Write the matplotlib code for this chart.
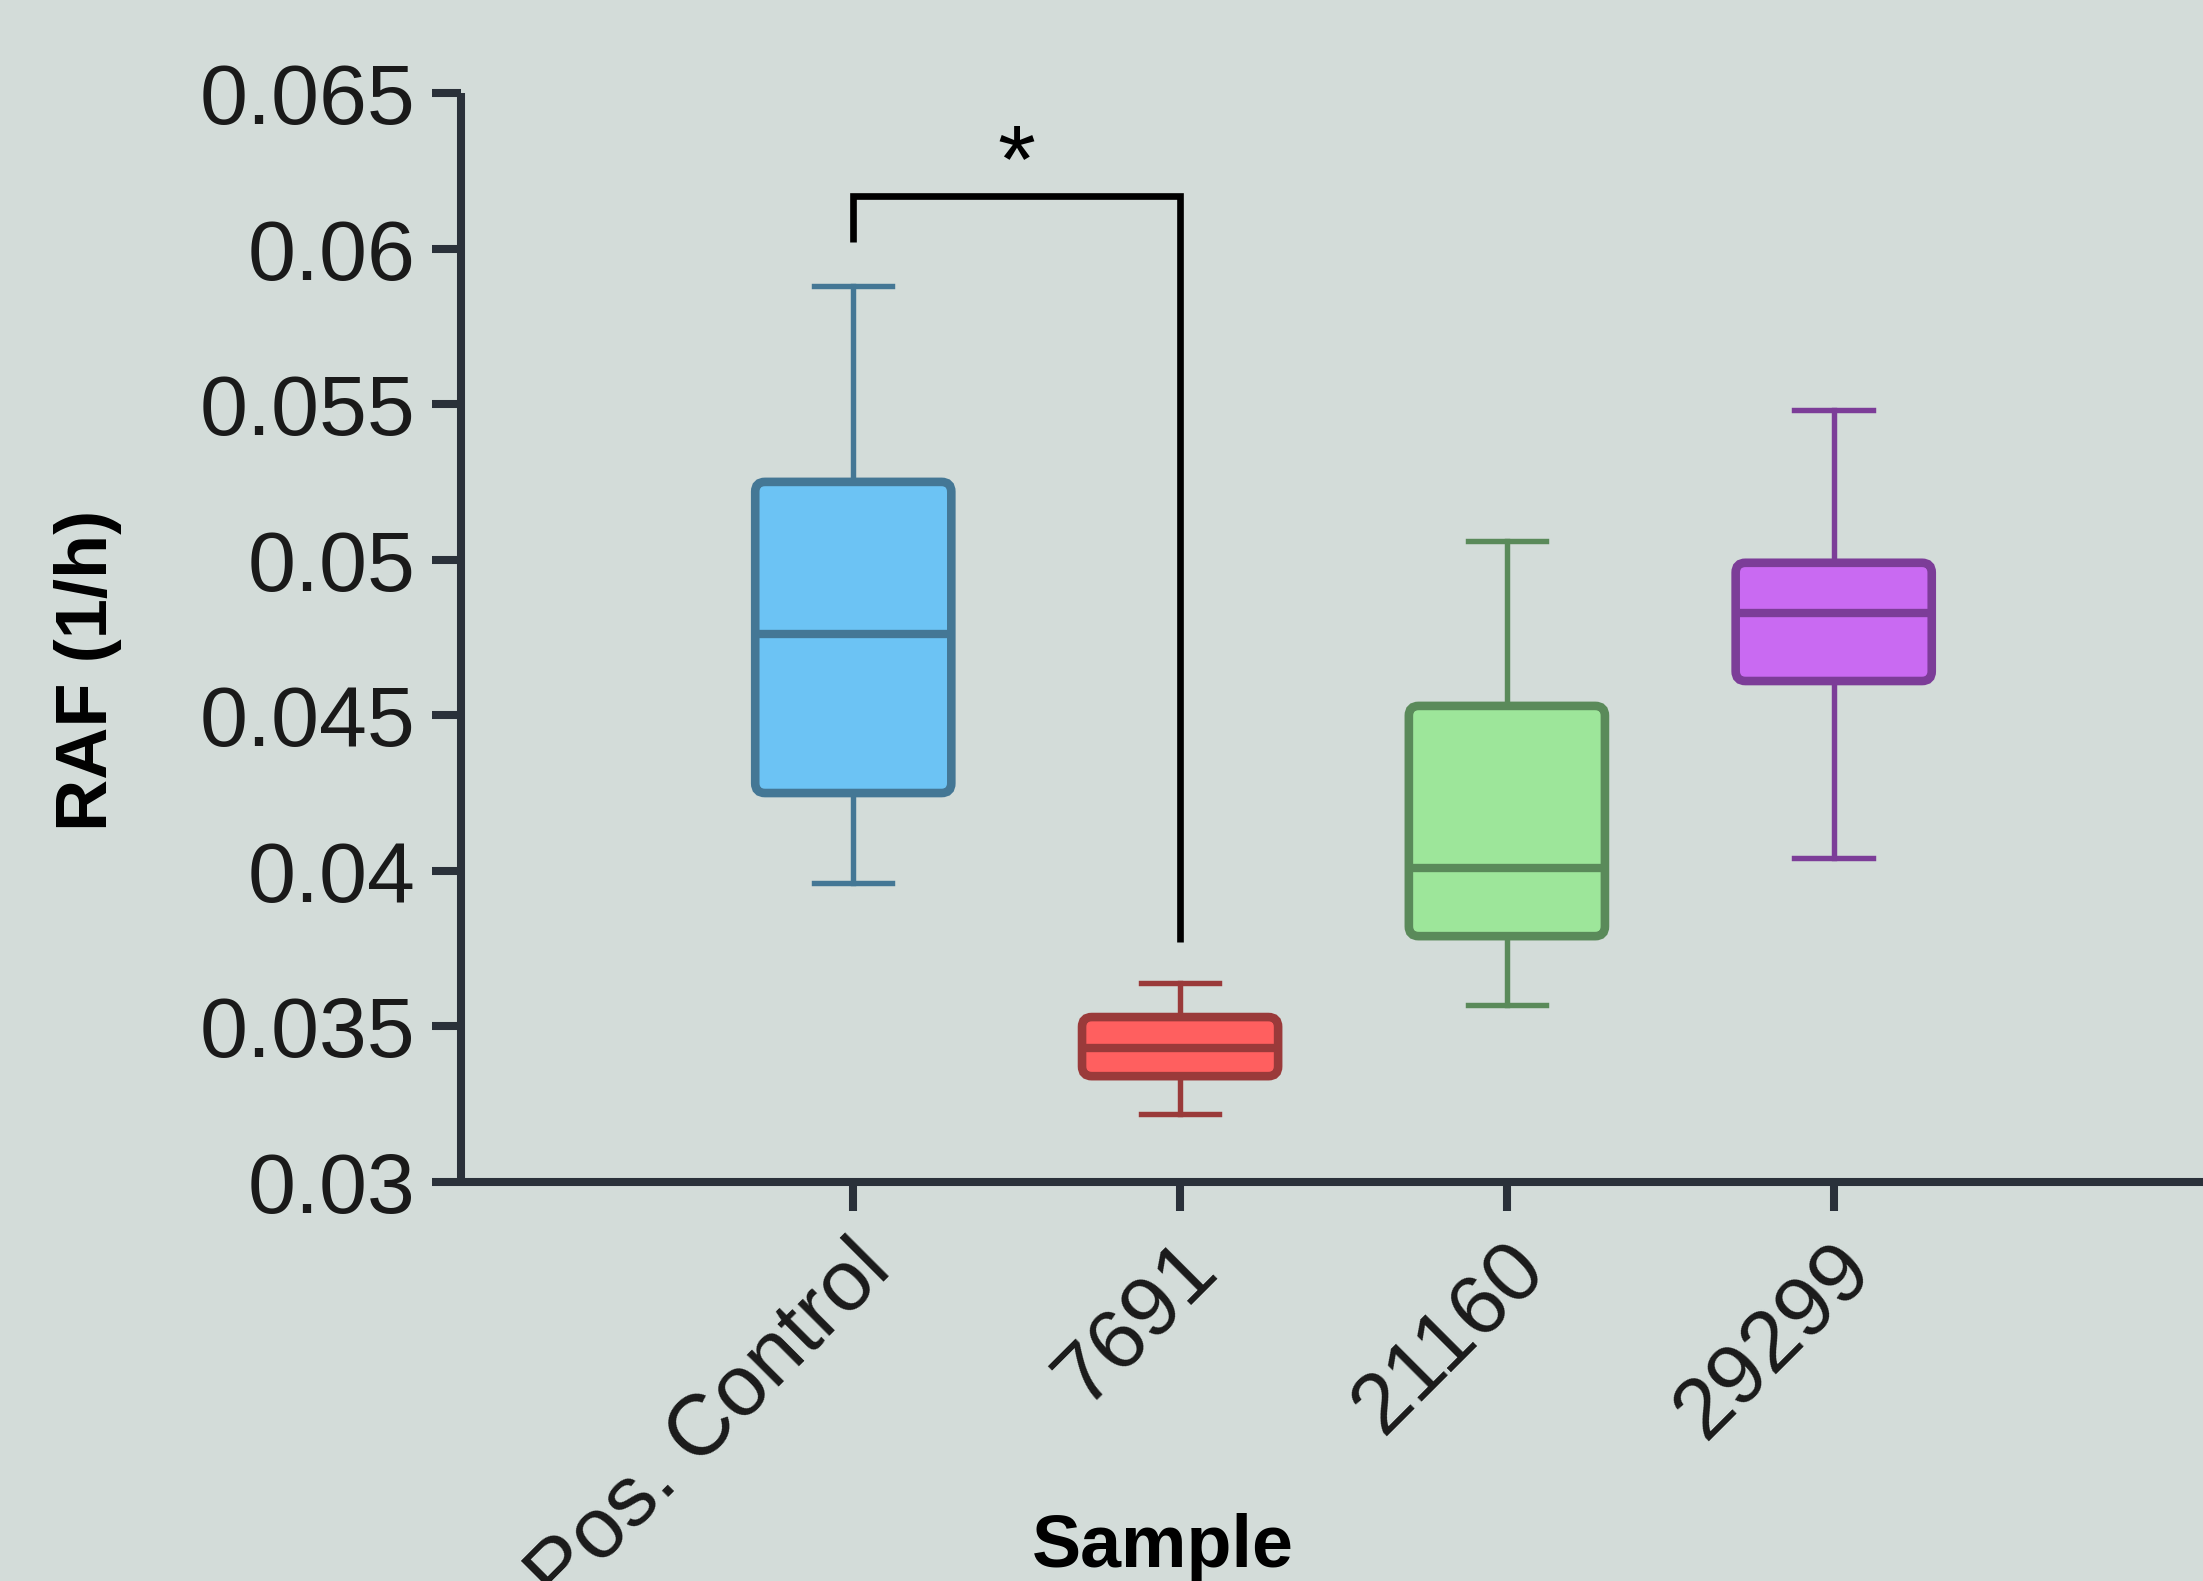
import matplotlib.pyplot as plt
from matplotlib.patches import FancyBboxPatch
from matplotlib.transforms import ScaledTranslation, blended_transform_factory

# box statistics
samples = ['Pos. Control', '7691', '21160', '29299']
whis_lo = [0.0396, 0.0322, 0.0357, 0.0404]
q1 = [0.0425, 0.0334, 0.0379, 0.0461]
med = [0.0476, 0.0343, 0.0401, 0.0483]
q3 = [0.0525, 0.0353, 0.0453, 0.0499]
whis_hi = [0.0588, 0.0364, 0.0506, 0.0548]

face_colors = ['#6cc3f4', '#ff5f5f', '#9de69a', '#c96af2']
edge_colors = ['#447795', '#9a3a3a', '#5a8a5a', '#7c3d98']

# significance bracket between first two groups
sig_pair = (0, 1)
sig_top = 0.0617
sig_left_end = 0.0602
sig_right_end = 0.0377
sig_text = '*'

bg = '#d3dcd9'
axis_col = '#2a313a'
box_w = 0.6

plt.rcParams['font.family'] = ['Liberation Sans', 'DejaVu Sans']

fig = plt.figure(figsize=(22.03, 15.81), dpi=100, facecolor=bg)
ax = fig.add_axes([0.2093, 0.2524, 0.7907, 0.6888])
ax.set_facecolor(bg)
ax.set_xlim(-1.2, 4.13)
ax.set_ylim(0.03, 0.065)

for i in range(len(samples)):
    stats = [{'whislo': whis_lo[i], 'q1': q1[i], 'med': med[i],
              'q3': q3[i], 'whishi': whis_hi[i], 'fliers': []}]
    ax.bxp(stats, positions=[i], widths=box_w, patch_artist=True,
           showfliers=False, manage_ticks=False,
           boxprops=dict(visible=False),
           medianprops=dict(color=edge_colors[i], linewidth=6.0, zorder=4),
           whiskerprops=dict(color=edge_colors[i], linewidth=3.9),
           capprops=dict(color=edge_colors[i], linewidth=3.9),
           capwidths=0.24)
    # rounded box, aspect corrected for the axes scale
    ax.add_patch(FancyBboxPatch((i - box_w / 2, q1[i]), box_w, q3[i] - q1[i],
                                boxstyle='round,pad=0,rounding_size=0.03',
                                mutation_aspect=0.0105,
                                facecolor=face_colors[i], edgecolor=edge_colors[i],
                                linewidth=6.2, zorder=3))

a, b = sig_pair
ax.plot([a, a, b, b], [sig_left_end, sig_top, sig_top, sig_right_end],
        color='black', linewidth=4.8, solid_joinstyle='miter',
        solid_capstyle='butt')
ax.text((a + b) / 2, sig_top + 0.0001, sig_text, ha='center', va='baseline',
        fontsize=70, color='black')

ax.set_yticks([0.03, 0.035, 0.04, 0.045, 0.05, 0.055, 0.06, 0.065])
ax.set_yticklabels(['0.03', '0.035', '0.04', '0.045', '0.05', '0.055', '0.06', '0.065'])
ax.set_xticks(range(len(samples)))
ax.set_xticklabels([])

# rotated category labels, nudged right of the tick
lab_tr = blended_transform_factory(ax.transData, ax.transAxes) + \
    ScaledTranslation(0.25, -0.74, fig.dpi_scale_trans)
for i, name in enumerate(samples):
    ax.text(i, 0, name, transform=lab_tr, rotation=45, ha='right', va='center',
            rotation_mode='anchor', fontsize=62, color='#1a1a1a')

for s in ['top', 'right']:
    ax.spines[s].set_visible(False)
for s in ['left', 'bottom']:
    ax.spines[s].set_linewidth(5.8)
    ax.spines[s].set_color(axis_col)
    ax.spines[s].set_capstyle('butt')

ax.tick_params(axis='both', direction='out', length=21, width=5.8,
               color=axis_col, labelcolor='#1a1a1a')
ax.tick_params(axis='y', pad=12, labelsize=62)

fig.text(0.040, 0.576, 'RAF (1/h)', rotation=90, ha='center', va='center',
         fontsize=52, fontweight='bold')
fig.text(0.528, 0.0215, 'Sample', ha='center', va='center',
         fontsize=53, fontweight='bold')

fig.savefig('out.png', dpi=100, facecolor=bg)
